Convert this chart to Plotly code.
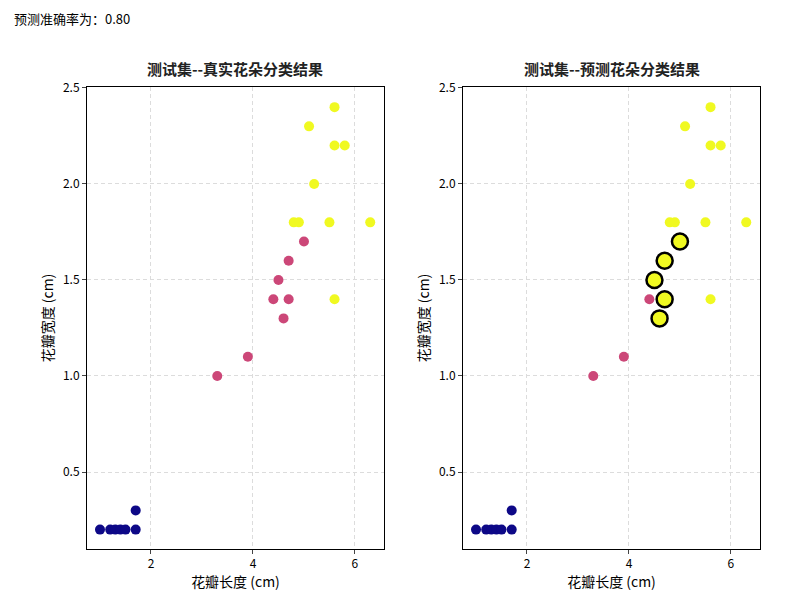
import plotly.graph_objects as go
from plotly.subplots import make_subplots

setosa_x = [1.0, 1.2, 1.3, 1.4, 1.5, 1.7, 1.7]
setosa_y = [0.2, 0.2, 0.2, 0.2, 0.2, 0.2, 0.3]
versi_x = [3.3, 3.9, 4.6, 4.4, 4.7, 4.5, 4.7, 5.0]
versi_y = [1.0, 1.1, 1.3, 1.4, 1.4, 1.5, 1.6, 1.7]
virg_x = [5.6, 5.1, 5.6, 5.8, 5.2, 4.8, 4.9, 5.5, 6.3, 5.6]
virg_y = [2.4, 2.3, 2.2, 2.2, 2.0, 1.8, 1.8, 1.8, 1.8, 1.4]
# predicted: versicolor points misclassified as virginica
wrong_x = [4.6, 4.7, 4.5, 4.7, 5.0]
wrong_y = [1.3, 1.4, 1.5, 1.6, 1.7]
pv_x = [3.3, 3.9, 4.4]
pv_y = [1.0, 1.1, 1.4]
accuracy = "0.80"

C0, C1, C2 = "#0d0887", "#cc4778", "#f0f921"
F = "Noto Sans CJK SC"

fig = make_subplots(rows=1, cols=2)
fig.update_layout(xaxis=dict(domain=[0, 0.4413]), xaxis2=dict(domain=[0.5587, 1]))

def pts(x, y, c, col, size=10, line=None):
    fig.add_trace(go.Scatter(x=x, y=y, mode="markers",
                             marker=dict(color=c, size=size, line=line or dict(width=0)),
                             showlegend=False), row=1, col=col)

pts(setosa_x, setosa_y, C0, 1)
pts(versi_x, versi_y, C1, 1)
pts(virg_x, virg_y, C2, 1)
pts(setosa_x, setosa_y, C0, 2)
pts(pv_x, pv_y, C1, 2)
pts(virg_x, virg_y, C2, 2)
pts(wrong_x, wrong_y, C2, 2, size=16, line=dict(color="black", width=2.5))

for c in (1, 2):
    fig.update_xaxes(range=[0.745, 6.57], tickvals=[2, 4, 6], showline=True, mirror=True,
                     linecolor="black", ticks="outside", ticklen=4, zeroline=False,
                     gridcolor="#dcdcdc", griddash="4px,3px", title_text="花瓣长度 (cm)",
                     title_standoff=4, automargin=False, row=1, col=c)
    fig.update_yaxes(range=[0.099, 2.505], tickvals=[0.5, 1.0, 1.5, 2.0, 2.5],
                     ticktext=["0.5", "1.0", "1.5", "2.0", "2.5"], showline=True, mirror=True,
                     linecolor="black", ticks="outside", ticklen=4, zeroline=False,
                     gridcolor="#dcdcdc", griddash="4px,3px", title_text="花瓣宽度 (cm)",
                     title_standoff=6, automargin=False, row=1, col=c)

for i, t in enumerate(["<b>测试集--真实花朵分类结果</b>", "<b>测试集--预测花朵分类结果</b>"]):
    fig.add_annotation(text=t, xref="x%s domain" % ("" if i == 0 else "2"), yref="paper",
                       x=0.5, y=1.0, yshift=6, xanchor="center", yanchor="bottom",
                       showarrow=False, font=dict(size=15, color="#222", family=F))
fig.add_annotation(text="预测准确率为：" + accuracy, xref="paper", yref="paper",
                   x=-0.112, y=1.149, xanchor="left", yanchor="middle", showarrow=False,
                   font=dict(size=13, color="black", family=F))
fig.update_layout(width=806, height=615, plot_bgcolor="white", paper_bgcolor="white",
                  font=dict(family=F, size=12, color="black"),
                  margin=dict(l=79, r=54, t=79, b=74, autoexpand=False))
fig.write_html("out.html")
